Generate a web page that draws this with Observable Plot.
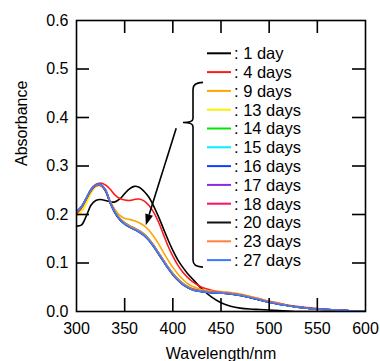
<!DOCTYPE html>
<html><head><meta charset="utf-8">
<script src="https://cdn.jsdelivr.net/npm/d3@7"></script>
<script src="https://cdn.jsdelivr.net/npm/@observablehq/plot@0.6"></script>
<style>
body{margin:0;background:#fff;}
#chart svg{font-family:Arial,"Liberation Sans",sans-serif;}
</style>
</head><body><div id="chart"></div>
<script>
const wavelengths = [300,305,310,315,320,325,330,335,340,345,350,355,360,365,370,375,380,385,390,395,400,405,410,415,420,430,440,450,460,470,480,490,500,510,520,530,540,550,560,570,580,590,600];
const seriesNames = [": 1 day", ": 4 days", ": 9 days", ": 13 days", ": 14 days", ": 15 days", ": 16 days", ": 17 days", ": 18 days", ": 20 days", ": 23 days", ": 27 days"];
const seriesColors = ["#000000", "#ff1a1a", "#ffa500", "#ffee00", "#00e600", "#00f0ff", "#1040ff", "#8a2be2", "#ff1060", "#111111", "#ff8040", "#3a78ff"];

const day1  = [0.176,0.178,0.196,0.219,0.229,0.231,0.229,0.226,0.226,0.232,0.243,0.253,0.258,0.256,0.248,0.236,0.218,0.196,0.172,0.148,0.126,0.107,0.092,0.079,0.068,0.047,0.030,0.018,0.011,0.007,0.005,0.004,0.003,0.002,0.001,0,0,0,0,0,0,0,0];
const day4  = [0.200,0.212,0.232,0.252,0.262,0.265,0.261,0.252,0.240,0.233,0.230,0.229,0.231,0.232,0.228,0.219,0.205,0.185,0.160,0.135,0.114,0.096,0.082,0.071,0.062,0.050,0.044,0.040,0.038,0.035,0.031,0.026,0.021,0.017,0.013,0.010,0.008,0.006,0.004,0.003,0.002,0.001,0.001];
const day9  = [0.202,0.213,0.232,0.250,0.259,0.260,0.250,0.228,0.210,0.198,0.192,0.190,0.187,0.183,0.177,0.168,0.155,0.140,0.123,0.106,0.091,0.078,0.067,0.058,0.052,0.045,0.042,0.041,0.039,0.036,0.031,0.026,0.021,0.017,0.013,0.010,0.007,0.005,0.004,0.003,0.002,0.001,0.001];
const day13 = [0.197,0.205,0.222,0.244,0.257,0.260,0.250,0.225,0.205,0.191,0.182,0.176,0.171,0.166,0.159,0.149,0.136,0.121,0.106,0.091,0.078,0.067,0.058,0.051,0.047,0.042,0.040,0.039,0.037,0.034,0.030,0.025,0.020,0.016,0.012,0.009,0.007,0.005,0.004,0.003,0.002,0.001,0.001];
const day14 = [0.204,0.214,0.231,0.249,0.259,0.260,0.249,0.224,0.205,0.192,0.183,0.177,0.172,0.167,0.160,0.150,0.137,0.122,0.107,0.092,0.079,0.068,0.059,0.052,0.047,0.042,0.040,0.039,0.037,0.034,0.029,0.024,0.020,0.016,0.012,0.009,0.007,0.005,0.004,0.003,0.002,0.001,0.001];
const day15 = [0.205,0.215,0.232,0.250,0.260,0.261,0.250,0.225,0.205,0.191,0.182,0.176,0.171,0.166,0.159,0.149,0.136,0.121,0.106,0.091,0.078,0.067,0.058,0.051,0.046,0.042,0.040,0.039,0.037,0.034,0.029,0.024,0.020,0.016,0.012,0.009,0.007,0.005,0.004,0.003,0.002,0.001,0.001];
const day16 = [0.206,0.216,0.233,0.251,0.261,0.262,0.251,0.225,0.204,0.190,0.181,0.175,0.170,0.165,0.158,0.148,0.135,0.120,0.105,0.090,0.077,0.066,0.057,0.050,0.046,0.041,0.039,0.038,0.036,0.033,0.029,0.024,0.019,0.015,0.012,0.009,0.007,0.005,0.004,0.003,0.002,0.001,0.001];
const day17 = [0.205,0.215,0.232,0.250,0.260,0.261,0.250,0.224,0.204,0.190,0.181,0.175,0.170,0.165,0.158,0.148,0.135,0.120,0.105,0.090,0.077,0.066,0.057,0.050,0.046,0.042,0.040,0.039,0.037,0.034,0.029,0.024,0.020,0.016,0.012,0.009,0.007,0.005,0.004,0.003,0.002,0.001,0.001];
const day18 = [0.204,0.214,0.231,0.249,0.259,0.260,0.249,0.224,0.205,0.191,0.182,0.176,0.171,0.166,0.159,0.149,0.136,0.121,0.106,0.091,0.078,0.067,0.058,0.051,0.047,0.042,0.040,0.039,0.037,0.034,0.030,0.025,0.020,0.016,0.012,0.009,0.007,0.005,0.004,0.003,0.002,0.001,0.001];
const day20 = [0.205,0.215,0.232,0.250,0.260,0.261,0.250,0.224,0.203,0.189,0.180,0.174,0.169,0.164,0.157,0.147,0.134,0.119,0.104,0.089,0.076,0.065,0.056,0.050,0.045,0.041,0.039,0.038,0.036,0.033,0.029,0.024,0.019,0.015,0.012,0.009,0.007,0.005,0.004,0.003,0.002,0.001,0.001];
const day23 = [0.205,0.215,0.232,0.250,0.260,0.261,0.251,0.225,0.205,0.191,0.182,0.176,0.171,0.166,0.159,0.149,0.136,0.121,0.106,0.091,0.078,0.067,0.058,0.051,0.046,0.042,0.040,0.039,0.037,0.034,0.030,0.025,0.020,0.016,0.012,0.009,0.007,0.005,0.004,0.003,0.002,0.001,0.001];
const day27 = [0.206,0.216,0.233,0.251,0.261,0.262,0.251,0.225,0.204,0.190,0.180,0.174,0.169,0.164,0.157,0.147,0.134,0.119,0.104,0.089,0.076,0.065,0.056,0.050,0.045,0.041,0.039,0.038,0.036,0.033,0.029,0.024,0.019,0.015,0.012,0.009,0.007,0.005,0.004,0.003,0.002,0.001,0.001];
const seriesValues = [day1, day4, day9, day13, day14, day15, day16, day17, day18, day20, day23, day27];

const xTicks = [300, 350, 400, 450, 500, 550, 600];
const yTicks = [0.0, 0.1, 0.2, 0.3, 0.4, 0.5, 0.6];
const xLabel = "Wavelength/nm";
const yLabel = "Absorbance";
const arrowStart = [404, 0.377];
const arrowEnd = [372.5, 0.177];

const rows = seriesNames.flatMap((name, i) => wavelengths.map((w, j) => ({name, w, a: seriesValues[i][j]})));

const W = 380, H = 361, mL = 76, mR = 15, mT = 20, mB = 50;
const plotW = W - mL - mR, plotH = H - mT - mB, TICK = 13;

const plot = Plot.plot({
  width: W, height: H,
  marginLeft: mL, marginRight: mR, marginTop: mT, marginBottom: mB,
  style: {fontFamily: "Arial, 'Liberation Sans', sans-serif", fontSize: "16px", background: "#fff", color: "#000"},
  x: {domain: [300, 600]},
  y: {domain: [0, 0.6]},
  color: {domain: seriesNames, range: seriesColors},
  marks: [
    Plot.line(rows, {x: "w", y: "a", z: "name", stroke: "name", strokeWidth: 1.6, curve: "catmull-rom", clip: true}),
    Plot.axisX(xTicks, {anchor: "bottom", tickSize: 0, tickPadding: 11, tickFormat: d => String(d), fontSize: 16, label: null}),
    Plot.axisY(yTicks, {anchor: "left", tickSize: 0, tickPadding: 8, tickFormat: d => d.toFixed(1), fontSize: 16, label: null}),
    Plot.tickX(xTicks.slice(1, -1), {x: d => d, insetTop: plotH - TICK, stroke: "#000", strokeWidth: 1.6}),
    Plot.tickX(xTicks.slice(1, -1), {x: d => d, insetBottom: plotH - TICK, stroke: "#000", strokeWidth: 1.6}),
    Plot.tickY(yTicks.slice(1, -1), {y: d => d, insetRight: plotW - TICK, stroke: "#000", strokeWidth: 1.6}),
    Plot.tickY(yTicks.slice(1, -1), {y: d => d, insetLeft: plotW - TICK, stroke: "#000", strokeWidth: 1.6}),
    Plot.frame({stroke: "#000", strokeWidth: 1.6}),
    Plot.text([xLabel], {text: d => d, frameAnchor: "bottom", dy: 42, lineAnchor: "middle", fontSize: 16, fill: "#000"}),
    Plot.text([yLabel], {text: d => d, frameAnchor: "left", dx: -55, rotate: -90, lineAnchor: "middle", fontSize: 16, fill: "#000"})
  ]
});
document.getElementById("chart").appendChild(plot);

const svg = d3.select(plot);
const sx = plot.scale("x"), sy = plot.scale("y");

// legend
const rowY = i => 53.3 + i * 18.8;
const leg = svg.append("g").attr("text-anchor", "start");
seriesNames.forEach((name, i) => {
  leg.append("line").attr("x1", 207).attr("x2", 231).attr("y1", rowY(i)).attr("y2", rowY(i))
    .attr("stroke", seriesColors[i]).attr("stroke-width", 2);
  leg.append("text").attr("x", 234).attr("y", rowY(i)).attr("dy", "0.36em")
    .attr("text-anchor", "start").attr("font-size", 16.5).attr("fill", "#000").text(name);
});

// bracket
const bx = 193, bTop = rowY(2) - 8.5, bBot = rowY(11) + 7, bMid = 122.5;
leg.append("path")
  .attr("d", `M${bx + 10},${bTop} Q${bx},${bTop} ${bx},${bTop + 7} L${bx},${bMid - 4} Q${bx},${bMid} ${bx - 10},${bMid} Q${bx},${bMid} ${bx},${bMid + 4} L${bx},${bBot - 7} Q${bx},${bBot} ${bx + 10},${bBot}`)
  .attr("fill", "none").attr("stroke", "#000").attr("stroke-width", 1.6);

// arrow
const ax1 = sx.apply(arrowStart[0]), ay1 = sy.apply(arrowStart[1]);
const ax2 = sx.apply(arrowEnd[0]), ay2 = sy.apply(arrowEnd[1]);
const ang = Math.atan2(ay2 - ay1, ax2 - ax1);
const hl = 11, hw = 4;
const bxh = ax2 - hl * Math.cos(ang), byh = ay2 - hl * Math.sin(ang);
svg.append("line").attr("x1", ax1).attr("y1", ay1).attr("x2", bxh).attr("y2", byh)
  .attr("stroke", "#000").attr("stroke-width", 1.6);
svg.append("path")
  .attr("d", `M${ax2},${ay2} L${bxh + hw * Math.sin(ang)},${byh - hw * Math.cos(ang)} L${bxh - hw * Math.sin(ang)},${byh + hw * Math.cos(ang)} Z`)
  .attr("fill", "#000");
</script>
</body></html>
